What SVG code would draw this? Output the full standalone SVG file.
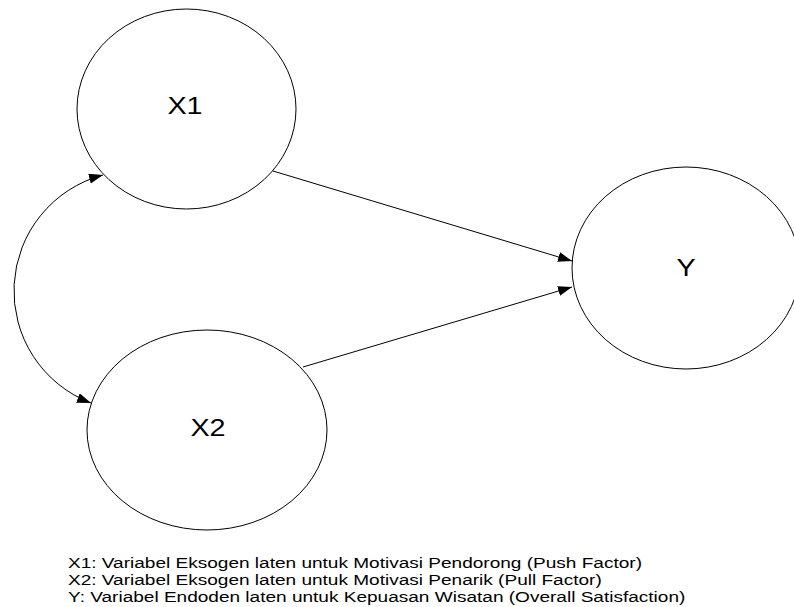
<svg xmlns="http://www.w3.org/2000/svg" width="794" height="607" viewBox="0 0 794 607">
<style>
.node{fill:#fff;stroke:#000;stroke-width:1}
.lbl{font-family:"Liberation Sans",Arial,sans-serif;font-size:23px;fill:#000;text-anchor:middle}
.leg{font-family:"Liberation Sans",Arial,sans-serif;font-size:15px;fill:#000}
.edge{fill:none;stroke:#000;stroke-width:1}
</style>
<defs>
<marker id="ah" markerUnits="userSpaceOnUse" markerWidth="16" markerHeight="12" refX="14" refY="5" orient="auto-start-reverse">
<path d="M0,0 L14,5 L0,10 z" fill="#000"/>
</marker>
</defs>
<rect width="794" height="607" fill="#fff"/>
<g id="X1">
<ellipse class="node" cx="186.5" cy="109" rx="109.5" ry="100"/>
<text class="lbl" transform="translate(185,114) scale(1.25,1)">X1</text>
</g>
<g id="X2">
<ellipse class="node" cx="207" cy="430" rx="120" ry="100"/>
<text class="lbl" transform="translate(208,436) scale(1.25,1)">X2</text>
</g>
<g id="Y">
<ellipse class="node" cx="686" cy="268" rx="114" ry="101"/>
<text class="lbl" transform="translate(686,276) scale(1.25,1)">Y</text>
</g>
<g id="connectors">
<line class="edge" x1="273" y1="171" x2="572" y2="261" marker-end="url(#ah)"/>
<line class="edge" x1="303" y1="367" x2="572" y2="287" marker-end="url(#ah)"/>
<path class="edge" d="M103,175 A120,120 0 0 0 91,403" marker-start="url(#ah)" marker-end="url(#ah)"/>
</g>
<g id="legend">
<text class="leg" transform="translate(68,568) scale(1.27,1)">X1: Variabel Eksogen laten untuk Motivasi Pendorong (Push Factor)</text>
<text class="leg" transform="translate(68,585) scale(1.27,1)">X2: Variabel Eksogen laten untuk Motivasi Penarik (Pull Factor)</text>
<text class="leg" transform="translate(68,602) scale(1.27,1)">Y: Variabel Endoden laten untuk Kepuasan Wisatan (Overall Satisfaction)</text>
</g>
</svg>
